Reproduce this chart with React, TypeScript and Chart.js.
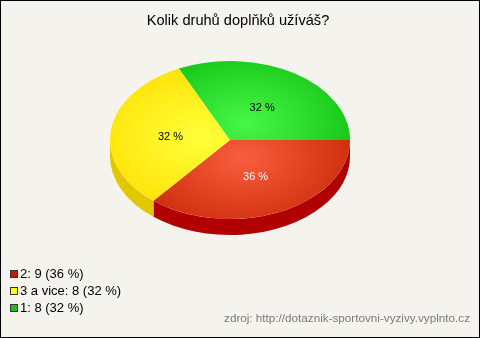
import React, { useEffect, useRef } from "react";
import { Chart, registerables } from "chart.js";

Chart.register(...registerables);

const titleText = "Kolik druhů doplňků užíváš?";
const categories = ["2", "3 a vice", "1"];
const values = [9, 8, 8];
const topLight = ["#f85e3e", "#ffff3a", "#48f648"];
const topDark = ["#c92806", "#ffdf00", "#10c010"];
const sideColors = ["#b00000", "#e2c600", "#0a9a0a"];
const legendColors = ["#c41a00", "#ffff10", "#1ec01e"];
const labelColors = ["#ffffff", "#000000", "#000000"];
const sourceText = "zdroj: http://dotaznik-sportovni-vyzivy.vyplnto.cz";

const K = 79 / 120;
const DEPTH = 16;
const FONT = '"Liberation Sans", Arial, sans-serif';

const total = values.reduce((a, b) => a + b, 0);
const pct = values.map((v) => Math.round((v / total) * 100));

function midAngle(i: number) {
  let before = 0;
  for (let j = 0; j < i; j++) before += values[j];
  return ((before + values[i] / 2) / total) * Math.PI * 2;
}

const pie3d = {
  id: "pie3d",
  beforeDatasetsDraw(chart: any) {
    const ctx = chart.ctx as CanvasRenderingContext2D;
    const arcs = chart.getDatasetMeta(0).data as any[];
    if (!arcs.length) return;
    const cx = arcs[0].x;
    const cy = arcs[0].y;
    const r = arcs[0].outerRadius;
    const ry = r * K;
    ctx.save();
    arcs.forEach((arc, i) => {
      const a = Math.max(arc.startAngle, 0);
      const b = Math.min(arc.endAngle, Math.PI);
      if (b <= a) return;
      ctx.beginPath();
      ctx.ellipse(cx, cy, r, ry, 0, a, b, false);
      ctx.lineTo(cx + r * Math.cos(b), cy + ry * Math.sin(b) + DEPTH);
      ctx.ellipse(cx, cy + DEPTH, r, ry, 0, b, a, true);
      ctx.closePath();
      ctx.fillStyle = sideColors[i];
      ctx.fill();
    });
    ctx.restore();
    ctx.save();
    ctx.translate(0, cy);
    ctx.scale(1, K);
    ctx.translate(0, -cy);
  },
  afterDatasetsDraw(chart: any) {
    const ctx = chart.ctx as CanvasRenderingContext2D;
    ctx.restore();
    const arcs = chart.getDatasetMeta(0).data as any[];
    if (!arcs.length) return;
    ctx.save();
    ctx.font = "11px " + FONT;
    ctx.textAlign = "center";
    ctx.textBaseline = "middle";
    arcs.forEach((arc, i) => {
      const mid = (arc.startAngle + arc.endAngle) / 2;
      const x = arc.x + arc.outerRadius * 0.5 * Math.cos(mid);
      const y = arc.y + arc.outerRadius * 0.5 * Math.sin(mid) * K + 1.5;
      ctx.fillStyle = labelColors[i];
      ctx.fillText(pct[i] + " %", x, y);
    });
    ctx.restore();
  },
};

export default function App() {
  const ref = useRef<HTMLCanvasElement | null>(null);
  useEffect(() => {
    document.body.style.margin = "0";
    const canvas = ref.current;
    if (!canvas) return;
    const chart = new Chart(canvas, {
      type: "pie",
      data: {
        labels: categories,
        datasets: [
          {
            data: values,
            borderWidth: 0,
            clip: false as any,
            backgroundColor: (c: any) => {
              const ch = c.chart;
              const area = ch.chartArea;
              const i = c.dataIndex ?? 0;
              if (!area) return topDark[i];
              const cx = (area.left + area.right) / 2;
              const cy = (area.top + area.bottom) / 2;
              const r = Math.min(area.right - area.left, area.bottom - area.top) / 2;
              const m = midAngle(i);
              const gx = cx + r * 0.25 * Math.cos(m);
              const gy = cy + r * 0.25 * Math.sin(m);
              const g = ch.ctx.createRadialGradient(gx, gy, 0, gx, gy, r * 1.05);
              g.addColorStop(0, topLight[i]);
              g.addColorStop(1, topDark[i]);
              return g;
            },
          },
        ],
      },
      options: {
        responsive: false,
        animation: false,
        devicePixelRatio: 1,
        rotation: 90,
        layout: { padding: { left: 110, right: 130, top: 20, bottom: 78 } },
        plugins: {
          legend: { display: false },
          tooltip: { enabled: false },
          title: { display: false },
        },
      } as any,
      plugins: [pie3d],
    });
    return () => chart.destroy();
  }, []);

  return (
    <div
      style={{
        position: "relative",
        width: 480,
        height: 338,
        background: "#f4f3ee",
        fontFamily: FONT,
        overflow: "hidden",
      }}
    >
      <canvas
        ref={ref}
        width={480}
        height={338}
        style={{ position: "absolute", left: 0, top: 0, display: "block" }}
      />
      <div
        style={{
          position: "absolute",
          left: 0,
          top: 10,
          width: 476,
          textAlign: "center",
          fontSize: 14.6,
          lineHeight: "20px",
          color: "#000",
        }}
      >
        {titleText}
      </div>
      <div style={{ position: "absolute", left: 10, top: 265 }}>
        {categories.map((c, i) => (
          <div
            key={c}
            style={{
              display: "flex",
              alignItems: "center",
              height: 17,
              fontSize: 13,
              lineHeight: "17px",
              color: "#000",
            }}
          >
            <span
              style={{
                display: "inline-block",
                width: 6,
                height: 6,
                border: "1px solid #333",
                background: legendColors[i],
                marginRight: 2,
              }}
            />
            <span>{`${c}: ${values[i]} (${pct[i]} %)`}</span>
          </div>
        ))}
      </div>
      <div
        style={{
          position: "absolute",
          right: 10,
          top: 311,
          fontSize: 11.7,
          lineHeight: "14px",
          color: "#7a7a7a",
          whiteSpace: "nowrap",
        }}
      >
        {sourceText}
      </div>
      <div
        style={{
          position: "absolute",
          left: 0,
          top: 0,
          width: 480,
          height: 338,
          boxSizing: "border-box",
          border: "1px solid #000",
          pointerEvents: "none",
        }}
      />
    </div>
  );
}
